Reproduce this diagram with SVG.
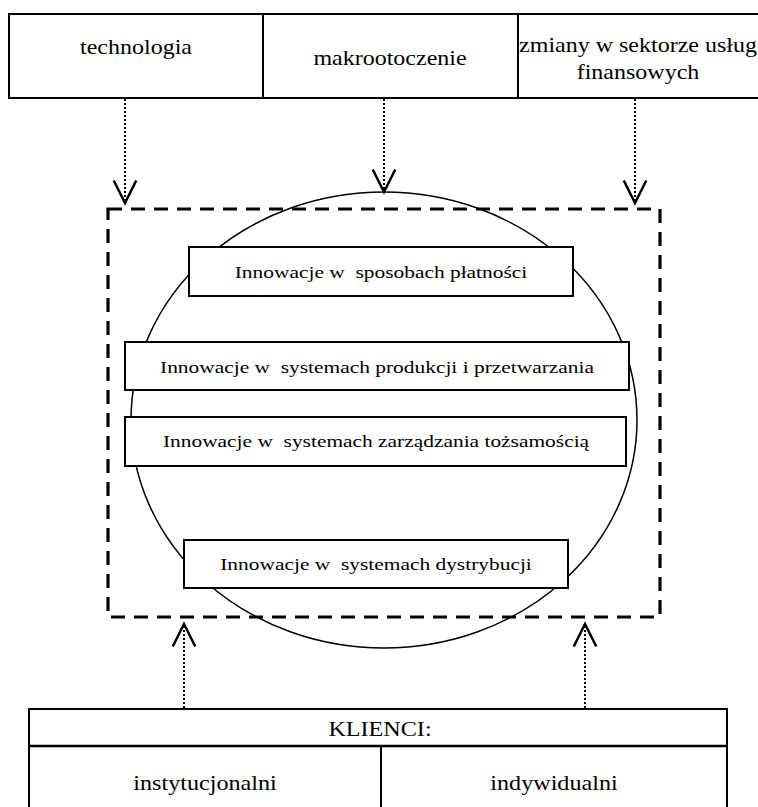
<svg xmlns="http://www.w3.org/2000/svg" width="758" height="807" viewBox="0 0 758 807">
<style>
.box{fill:#fff;stroke:#000;stroke-width:2}
.t{font-family:"Liberation Serif","Times New Roman",serif;fill:#000;text-anchor:middle}
.top{font-size:20px}
.in{font-size:17px}
.bot{font-size:21px}
.dot{fill:none;stroke:#000;stroke-width:2;stroke-dasharray:2 2;marker-end:url(#arr)}
.dash{fill:none;stroke:#000;stroke-width:3.2;stroke-dasharray:14 9}
</style>
<defs>
<marker id="arr" markerUnits="userSpaceOnUse" markerWidth="30" markerHeight="30" viewBox="-20 -12 24 24" refX="0" refY="0" orient="auto">
<path d="M-18,-9 L0,0 L-18,9" fill="none" stroke="#000" stroke-width="2"/>
</marker>
</defs>
<g id="factors">
<rect class="box" x="9" y="14" width="760" height="84"/>
<line x1="263" y1="14" x2="263" y2="98" stroke="#000" stroke-width="2"/>
<line x1="518" y1="14" x2="518" y2="98" stroke="#000" stroke-width="2"/>
</g>
<g id="technologia"><text class="t top" transform="translate(136,54) scale(1.2,1)">technologia</text></g>
<g id="makrootoczenie"><text class="t top" transform="translate(390,65) scale(1.2,1)">makrootoczenie</text></g>
<g id="zmiany"><text class="t top" transform="translate(638,52) scale(1.2,1)">zmiany w sektorze usług</text><text class="t top" transform="translate(638,79) scale(1.2,1)">finansowych</text></g>
<g id="frame"><rect class="dash" x="108" y="209" width="552" height="408"/></g>
<g id="circle"><ellipse cx="384" cy="420" rx="253" ry="228" fill="none" stroke="#000" stroke-width="1.5"/></g>
<g id="b1"><rect class="box" x="189" y="247" width="384" height="49"/><text class="t in" xml:space="preserve" transform="translate(381,278) scale(1.26,1)">Innowacje w  sposobach płatności</text></g>
<g id="b2"><rect class="box" x="125" y="342" width="504" height="48"/><text class="t in" xml:space="preserve" transform="translate(377,373) scale(1.26,1)">Innowacje w  systemach produkcji i przetwarzania</text></g>
<g id="b3"><rect class="box" x="125" y="417" width="501" height="49"/><text class="t in" xml:space="preserve" transform="translate(376,447) scale(1.26,1)">Innowacje w  systemach zarządzania tożsamością</text></g>
<g id="b4"><rect class="box" x="184" y="540" width="384" height="48"/><text class="t in" xml:space="preserve" transform="translate(376,570) scale(1.26,1)">Innowacje w  systemach dystrybucji</text></g>
<g id="klienci">
<rect class="box" x="29" y="709" width="698" height="110"/>
<line x1="29" y1="746" x2="727" y2="746" stroke="#000" stroke-width="2.5"/>
<line x1="381" y1="746" x2="381" y2="810" stroke="#000" stroke-width="2"/>
<text class="t bot" transform="translate(380,736) scale(1.15,1)">KLIENCI:</text>
<text class="t bot" transform="translate(205,790) scale(1.15,1)">instytucjonalni</text>
<text class="t bot" transform="translate(554,790) scale(1.15,1)">indywidualni</text>
</g>
<g id="connectors">
<line class="dot" x1="125" y1="99" x2="125" y2="203"/>
<line class="dot" x1="384" y1="99" x2="384" y2="192"/>
<line class="dot" x1="635" y1="99" x2="635" y2="203"/>
<line class="dot" x1="184" y1="708" x2="184" y2="624"/>
<line class="dot" x1="585" y1="708" x2="585" y2="624"/>
</g>
</svg>
